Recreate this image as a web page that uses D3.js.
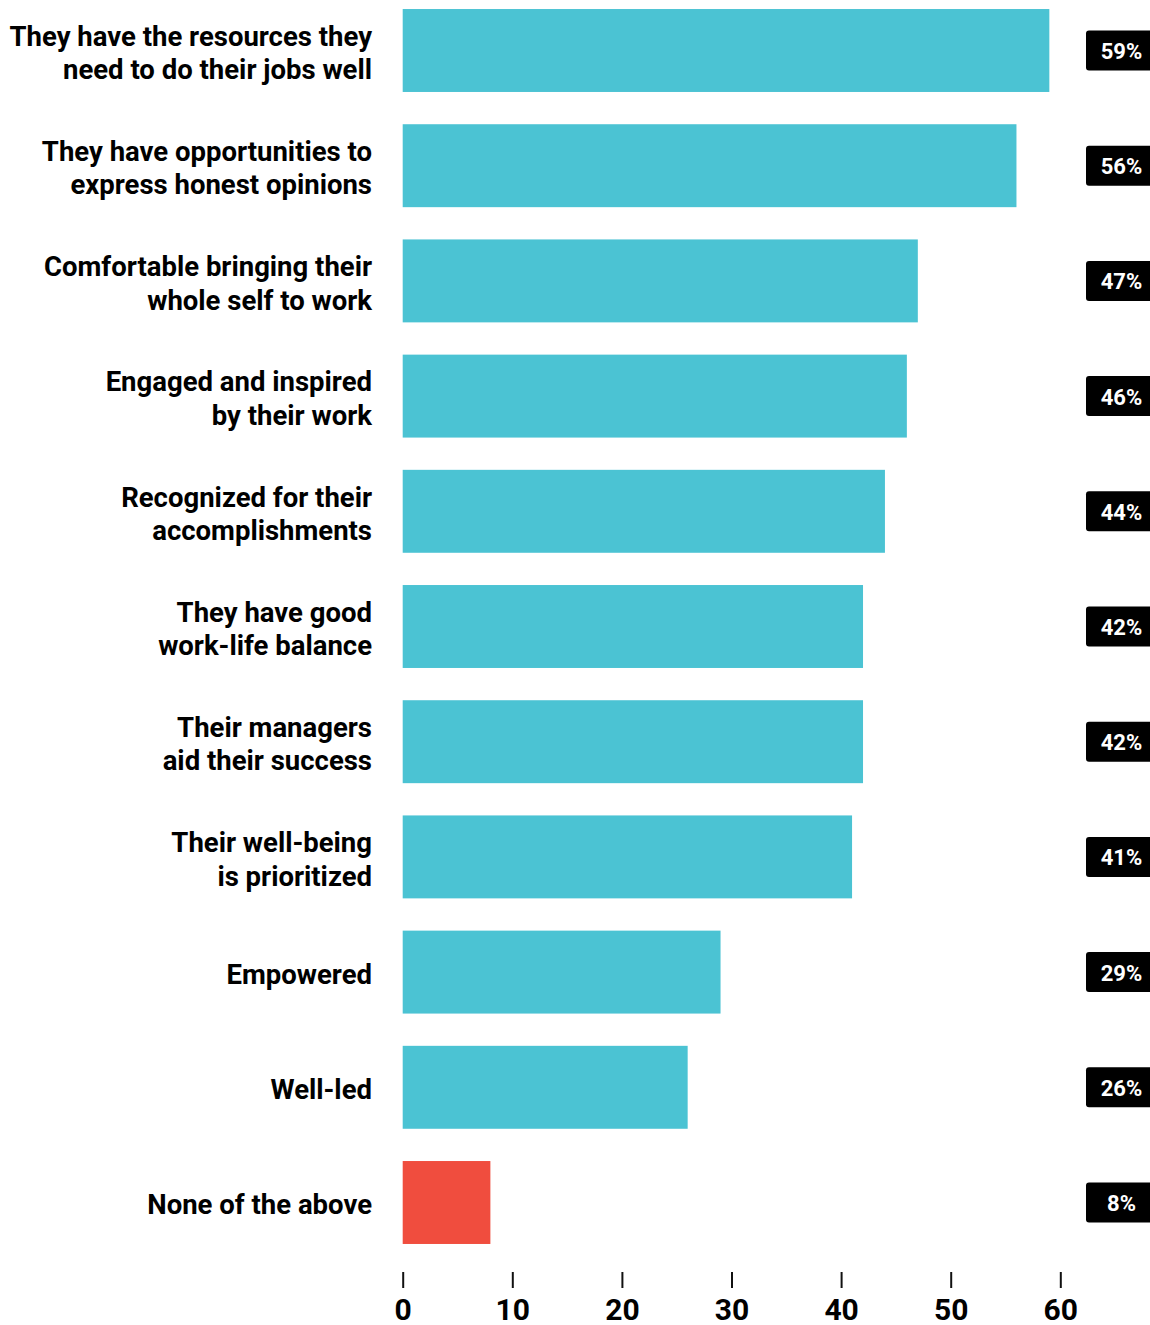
<!DOCTYPE html>
<html>
<head>
<meta charset="utf-8">
<script src="https://cdn.jsdelivr.net/npm/d3@7"></script>
<style>
  html, body { margin: 0; padding: 0; background: #fff; }
  svg { display: block; font-family: Roboto, "Noto Sans", sans-serif; }
</style>
</head>
<body>
<svg id="chart" width="1150" height="1325"></svg>
<script>
const categories = [
  ["They have the resources they", "need to do their jobs well"],
  ["They have opportunities to", "express honest opinions"],
  ["Comfortable bringing their", "whole self to work"],
  ["Engaged and inspired", "by their work"],
  ["Recognized for their", "accomplishments"],
  ["They have good", "work-life balance"],
  ["Their managers", "aid their success"],
  ["Their well-being", "is prioritized"],
  ["Empowered"],
  ["Well-led"],
  ["None of the above"]
];
const values = [59, 56, 47, 46, 44, 42, 42, 41, 29, 26, 8];
const highlight = [false, false, false, false, false, false, false, false, false, false, true];
const tickValues = [0, 10, 20, 30, 40, 50, 60];

const svg = d3.select("#chart");
const x = d3.scaleLinear().domain([0, 60]).range([402.7, 1060.3]);
const y = d3.scaleBand()
  .domain(d3.range(categories.length))
  .range([-7.1, 1260.1])
  .paddingInner(0.28)
  .paddingOuter(0.14);

const rows = svg.append("g").selectAll("g.row")
  .data(values.map((v, i) => ({ v, i, label: categories[i], hl: highlight[i] })))
  .join("g").attr("class", "row");

rows.append("rect")
  .attr("x", x(0))
  .attr("y", d => y(d.i))
  .attr("width", d => x(d.v) - x(0))
  .attr("height", y.bandwidth())
  .attr("fill", d => d.hl ? "#F04D3E" : "#4BC3D3");

const lineH = 33.5;
rows.append("text")
  .attr("text-anchor", "end")
  .attr("font-size", 27.5)
  .attr("font-weight", 700)
  .attr("fill", "#000")
  .each(function(d) {
    const t = d3.select(this);
    const cy = y(d.i) + y.bandwidth() / 2;
    const n = d.label.length;
    d.label.forEach((line, k) => {
      t.append("tspan")
        .attr("x", 372)
        .attr("y", cy + (k - (n - 1) / 2) * lineH + (n > 1 ? 12 : 11.5))
        .text(line);
    });
  });

rows.append("rect")
  .attr("x", 1086)
  .attr("y", d => y(d.i) + y.bandwidth() / 2 - 20)
  .attr("width", 70)
  .attr("height", 40)
  .attr("rx", 3)
  .attr("fill", "#000");

rows.append("text")
  .attr("x", 1121.5)
  .attr("y", d => y(d.i) + y.bandwidth() / 2 + 8.5)
  .attr("text-anchor", "middle")
  .attr("font-size", 22)
  .attr("font-weight", 700)
  .attr("fill", "#fff")
  .text(d => d.v + "%");

const axis = d3.axisBottom(x)
  .tickValues(tickValues)
  .tickSize(16)
  .tickPadding(11)
  .tickFormat(d3.format("d"));

const ag = svg.append("g")
  .attr("transform", "translate(0,1272)")
  .call(axis);
ag.select(".domain").remove();
ag.selectAll(".tick line").attr("stroke", "#111").attr("stroke-width", 2);
ag.selectAll(".tick text")
  .attr("font-family", "Roboto, 'Noto Sans', sans-serif")
  .attr("font-size", 30)
  .attr("font-weight", 700)
  .attr("fill", "#000");
</script>
</body>
</html>
